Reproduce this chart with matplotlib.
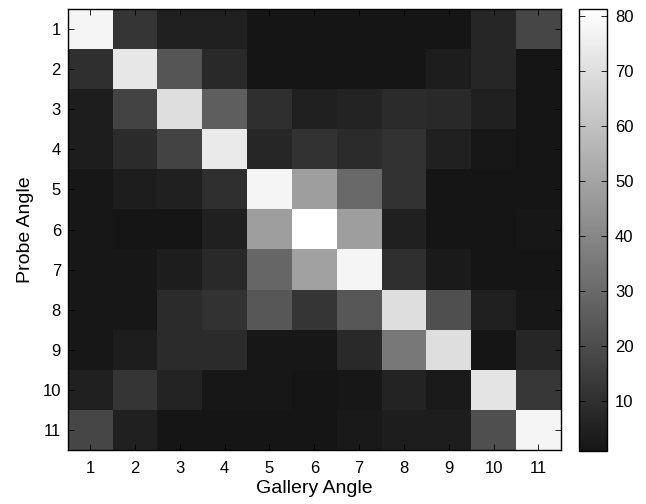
import numpy as np
import matplotlib
matplotlib.use('Agg')
import matplotlib.pyplot as plt
from matplotlib.colors import LinearSegmentedColormap

# angle labels
gallery_angles = ['1', '2', '3', '4', '5', '6', '7', '8', '9', '10', '11']
probe_angles = ['1', '2', '3', '4', '5', '6', '7', '8', '9', '10', '11']
cbar_ticks = [10, 20, 30, 40, 50, 60, 70, 80]

# values, one list per probe angle (row)
row1 = [78, 12, 5, 5, 1.5, 1.5, 1.5, 1.5, 1.5, 7, 18]
row2 = [10, 73, 23, 8, 1.5, 1, 1.5, 1.5, 4, 7, 1.5]
row3 = [4, 17, 70, 26, 10, 5, 6, 9, 8, 5, 1.5]
row4 = [4, 9, 17, 74, 7, 11, 9, 11, 5, 2, 1.5]
row5 = [2, 4, 5, 10, 78, 48, 30, 11, 1.5, 1.5, 1.5]
row6 = [2, 1, 1.5, 5, 48, 81, 48, 5, 1.5, 1.5, 2]
row7 = [2, 2, 4, 8, 29, 49, 78, 10, 3, 1.5, 1.5]
row8 = [2, 2, 9, 11, 24, 12, 24, 70, 21, 5, 2]
row9 = [2, 4, 9, 9, 2, 2, 8, 35, 70, 0.9, 7]
row10 = [5, 12, 6, 2, 2, 1.5, 2, 6, 3, 72, 13]
row11 = [18, 5, 1.5, 1, 1, 1.5, 2.5, 4, 4, 21, 78]

data = np.array([row1, row2, row3, row4, row5, row6, row7, row8, row9, row10, row11])

cmap = LinearSegmentedColormap.from_list('printgray', ['#151515', '#ffffff'])

plt.rcParams['font.family'] = ['Liberation Sans', 'DejaVu Sans']
fig = plt.figure(figsize=(6.46, 5.04), dpi=100)

ax = fig.add_axes([0.105, 0.107, 0.763, 0.875])
im = ax.imshow(data, cmap=cmap, vmin=0.9, vmax=81.2, aspect='auto',
               interpolation='nearest')

ax.set_xticks(range(len(gallery_angles)))
ax.set_xticklabels(gallery_angles, fontsize=12)
ax.set_yticks(range(len(probe_angles)))
ax.set_yticklabels(probe_angles, fontsize=12)
ax.tick_params(direction='in', top=True, right=True, length=4, width=0.6)
ax.tick_params(axis='x', pad=8)
ax.tick_params(axis='y', pad=5)
ax.set_xlabel('Gallery Angle', fontsize=14, labelpad=3)
ax.set_ylabel('Probe Angle', fontsize=14, labelpad=6)
for s in ax.spines.values():
    s.set_linewidth(1.0)

cax = fig.add_axes([0.896, 0.105, 0.043, 0.877])
cb = fig.colorbar(im, cax=cax, ticks=cbar_ticks)
cb.ax.tick_params(direction='in', left=True, right=True, length=4, width=0.6,
                  labelsize=12, pad=6)
cb.outline.set_linewidth(1.0)

fig.savefig('out.png', dpi=100)
